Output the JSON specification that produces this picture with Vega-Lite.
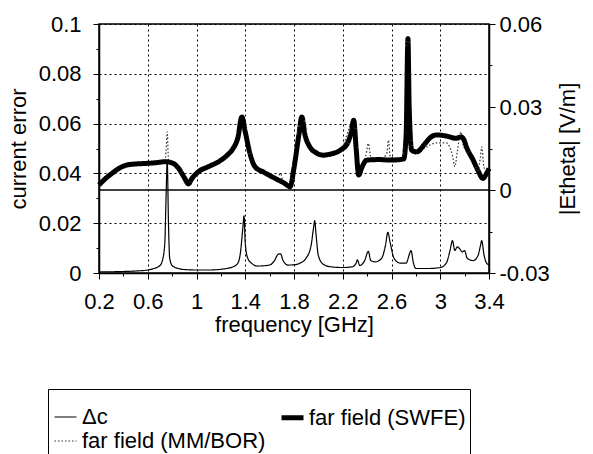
{
  "$schema": "https://vega.github.io/schema/vega-lite/v6.json",
  "width": 390,
  "height": 249,
  "autosize": "none",
  "padding": {"left": 99, "top": 24, "right": 104, "bottom": 181},
  "config": {
    "font": "Liberation Sans",
    "background": "white",
    "view": {"stroke": "black", "strokeWidth": 1.5},
    "axis": {
      "domainColor": "black",
      "domainWidth": 1.5,
      "tickColor": "black",
      "labelColor": "black",
      "titleColor": "black",
      "labelFont": "Liberation Sans",
      "titleFont": "Liberation Sans",
      "labelFontSize": 22,
      "titleFontSize": 22,
      "titleFontWeight": "normal",
      "gridColor": "black",
      "gridDash": [2, 3],
      "gridWidth": 1
    },
    "legend": {
      "labelFont": "Liberation Sans",
      "labelFontSize": 22,
      "labelColor": "black",
      "labelLimit": 400
    }
  },
  "datasets": {
    "dc": [
      {"freq": 0.2, "value": 0.0005, "series": "Δc"},
      {"freq": 0.3, "value": 0.0005, "series": "Δc"},
      {"freq": 0.4, "value": 0.0006, "series": "Δc"},
      {"freq": 0.5, "value": 0.0008, "series": "Δc"},
      {"freq": 0.6, "value": 0.0012, "series": "Δc"},
      {"freq": 0.65, "value": 0.0018, "series": "Δc"},
      {"freq": 0.7, "value": 0.003, "series": "Δc"},
      {"freq": 0.72, "value": 0.005, "series": "Δc"},
      {"freq": 0.74, "value": 0.012, "series": "Δc"},
      {"freq": 0.75, "value": 0.03, "series": "Δc"},
      {"freq": 0.76, "value": 0.045, "series": "Δc"},
      {"freq": 0.77, "value": 0.02, "series": "Δc"},
      {"freq": 0.78, "value": 0.006, "series": "Δc"},
      {"freq": 0.8, "value": 0.003, "series": "Δc"},
      {"freq": 0.85, "value": 0.0018, "series": "Δc"},
      {"freq": 0.9, "value": 0.0014, "series": "Δc"},
      {"freq": 1.0, "value": 0.0012, "series": "Δc"},
      {"freq": 1.1, "value": 0.0012, "series": "Δc"},
      {"freq": 1.2, "value": 0.0015, "series": "Δc"},
      {"freq": 1.3, "value": 0.0025, "series": "Δc"},
      {"freq": 1.34, "value": 0.004, "series": "Δc"},
      {"freq": 1.36, "value": 0.008, "series": "Δc"},
      {"freq": 1.38, "value": 0.018, "series": "Δc"},
      {"freq": 1.39, "value": 0.023, "series": "Δc"},
      {"freq": 1.4, "value": 0.012, "series": "Δc"},
      {"freq": 1.42, "value": 0.006, "series": "Δc"},
      {"freq": 1.45, "value": 0.004, "series": "Δc"},
      {"freq": 1.5, "value": 0.0028, "series": "Δc"},
      {"freq": 1.6, "value": 0.0032, "series": "Δc"},
      {"freq": 1.64, "value": 0.005, "series": "Δc"},
      {"freq": 1.67, "value": 0.0075, "series": "Δc"},
      {"freq": 1.69, "value": 0.0077, "series": "Δc"},
      {"freq": 1.71, "value": 0.005, "series": "Δc"},
      {"freq": 1.75, "value": 0.0032, "series": "Δc"},
      {"freq": 1.8, "value": 0.0033, "series": "Δc"},
      {"freq": 1.85, "value": 0.004, "series": "Δc"},
      {"freq": 1.9, "value": 0.006, "series": "Δc"},
      {"freq": 1.94, "value": 0.011, "series": "Δc"},
      {"freq": 1.96, "value": 0.018, "series": "Δc"},
      {"freq": 1.97, "value": 0.021, "series": "Δc"},
      {"freq": 1.98, "value": 0.016, "series": "Δc"},
      {"freq": 2.0, "value": 0.007, "series": "Δc"},
      {"freq": 2.04, "value": 0.0035, "series": "Δc"},
      {"freq": 2.1, "value": 0.0025, "series": "Δc"},
      {"freq": 2.2, "value": 0.0022, "series": "Δc"},
      {"freq": 2.28, "value": 0.0025, "series": "Δc"},
      {"freq": 2.31, "value": 0.004, "series": "Δc"},
      {"freq": 2.32, "value": 0.0053, "series": "Δc"},
      {"freq": 2.34, "value": 0.003, "series": "Δc"},
      {"freq": 2.38, "value": 0.005, "series": "Δc"},
      {"freq": 2.41, "value": 0.0087, "series": "Δc"},
      {"freq": 2.43, "value": 0.005, "series": "Δc"},
      {"freq": 2.47, "value": 0.0045, "series": "Δc"},
      {"freq": 2.52, "value": 0.006, "series": "Δc"},
      {"freq": 2.55, "value": 0.011, "series": "Δc"},
      {"freq": 2.57, "value": 0.0163, "series": "Δc"},
      {"freq": 2.59, "value": 0.012, "series": "Δc"},
      {"freq": 2.62, "value": 0.006, "series": "Δc"},
      {"freq": 2.67, "value": 0.004, "series": "Δc"},
      {"freq": 2.72, "value": 0.004, "series": "Δc"},
      {"freq": 2.75, "value": 0.008, "series": "Δc"},
      {"freq": 2.76, "value": 0.009, "series": "Δc"},
      {"freq": 2.78, "value": 0.004, "series": "Δc"},
      {"freq": 2.8, "value": 0.0018, "series": "Δc"},
      {"freq": 2.9, "value": 0.0018, "series": "Δc"},
      {"freq": 3.0, "value": 0.0022, "series": "Δc"},
      {"freq": 3.05, "value": 0.004, "series": "Δc"},
      {"freq": 3.08, "value": 0.009, "series": "Δc"},
      {"freq": 3.1, "value": 0.013, "series": "Δc"},
      {"freq": 3.12, "value": 0.009, "series": "Δc"},
      {"freq": 3.14, "value": 0.0105, "series": "Δc"},
      {"freq": 3.16, "value": 0.0097, "series": "Δc"},
      {"freq": 3.18, "value": 0.0085, "series": "Δc"},
      {"freq": 3.2, "value": 0.009, "series": "Δc"},
      {"freq": 3.22, "value": 0.006, "series": "Δc"},
      {"freq": 3.27, "value": 0.005, "series": "Δc"},
      {"freq": 3.31, "value": 0.007, "series": "Δc"},
      {"freq": 3.33, "value": 0.011, "series": "Δc"},
      {"freq": 3.34, "value": 0.013, "series": "Δc"},
      {"freq": 3.36, "value": 0.007, "series": "Δc"},
      {"freq": 3.38, "value": 0.004, "series": "Δc"},
      {"freq": 3.4, "value": 0.0033, "series": "Δc"}
    ],
    "mm": [
      {"freq": 0.2, "value": 0.0018, "series": "far field (MM/BOR)"},
      {"freq": 0.3, "value": 0.0058, "series": "far field (MM/BOR)"},
      {"freq": 0.45, "value": 0.0092, "series": "far field (MM/BOR)"},
      {"freq": 0.6, "value": 0.0096, "series": "far field (MM/BOR)"},
      {"freq": 0.74, "value": 0.0102, "series": "far field (MM/BOR)"},
      {"freq": 0.75, "value": 0.014, "series": "far field (MM/BOR)"},
      {"freq": 0.76, "value": 0.021, "series": "far field (MM/BOR)"},
      {"freq": 0.77, "value": 0.011, "series": "far field (MM/BOR)"},
      {"freq": 0.8, "value": 0.0097, "series": "far field (MM/BOR)"},
      {"freq": 0.85, "value": 0.008, "series": "far field (MM/BOR)"},
      {"freq": 0.9, "value": 0.0045, "series": "far field (MM/BOR)"},
      {"freq": 0.934, "value": 0.0022, "series": "far field (MM/BOR)"},
      {"freq": 1.016, "value": 0.0066, "series": "far field (MM/BOR)"},
      {"freq": 1.18, "value": 0.0102, "series": "far field (MM/BOR)"},
      {"freq": 1.3, "value": 0.015, "series": "far field (MM/BOR)"},
      {"freq": 1.372, "value": 0.026, "series": "far field (MM/BOR)"},
      {"freq": 1.44, "value": 0.013, "series": "far field (MM/BOR)"},
      {"freq": 1.55, "value": 0.0065, "series": "far field (MM/BOR)"},
      {"freq": 1.66, "value": 0.004, "series": "far field (MM/BOR)"},
      {"freq": 1.69, "value": 0.006, "series": "far field (MM/BOR)"},
      {"freq": 1.71, "value": 0.003, "series": "far field (MM/BOR)"},
      {"freq": 1.768, "value": 0.0014, "series": "far field (MM/BOR)"},
      {"freq": 1.84, "value": 0.02, "series": "far field (MM/BOR)"},
      {"freq": 1.864, "value": 0.026, "series": "far field (MM/BOR)"},
      {"freq": 1.93, "value": 0.0156, "series": "far field (MM/BOR)"},
      {"freq": 2.04, "value": 0.0126, "series": "far field (MM/BOR)"},
      {"freq": 2.18, "value": 0.0144, "series": "far field (MM/BOR)"},
      {"freq": 2.29, "value": 0.025, "series": "far field (MM/BOR)"},
      {"freq": 2.33, "value": 0.0058, "series": "far field (MM/BOR)"},
      {"freq": 2.36, "value": 0.009, "series": "far field (MM/BOR)"},
      {"freq": 2.39, "value": 0.0125, "series": "far field (MM/BOR)"},
      {"freq": 2.41, "value": 0.0168, "series": "far field (MM/BOR)"},
      {"freq": 2.43, "value": 0.012, "series": "far field (MM/BOR)"},
      {"freq": 2.5, "value": 0.011, "series": "far field (MM/BOR)"},
      {"freq": 2.56, "value": 0.013, "series": "far field (MM/BOR)"},
      {"freq": 2.575, "value": 0.018, "series": "far field (MM/BOR)"},
      {"freq": 2.59, "value": 0.012, "series": "far field (MM/BOR)"},
      {"freq": 2.7, "value": 0.0112, "series": "far field (MM/BOR)"},
      {"freq": 2.72, "value": 0.018, "series": "far field (MM/BOR)"},
      {"freq": 2.735, "value": 0.05, "series": "far field (MM/BOR)"},
      {"freq": 2.75, "value": 0.025, "series": "far field (MM/BOR)"},
      {"freq": 2.766, "value": 0.0135, "series": "far field (MM/BOR)"},
      {"freq": 2.807, "value": 0.013, "series": "far field (MM/BOR)"},
      {"freq": 2.87, "value": 0.015, "series": "far field (MM/BOR)"},
      {"freq": 2.97, "value": 0.017, "series": "far field (MM/BOR)"},
      {"freq": 3.05, "value": 0.017, "series": "far field (MM/BOR)"},
      {"freq": 3.1, "value": 0.0125, "series": "far field (MM/BOR)"},
      {"freq": 3.12, "value": 0.0084, "series": "far field (MM/BOR)"},
      {"freq": 3.14, "value": 0.014, "series": "far field (MM/BOR)"},
      {"freq": 3.17, "value": 0.021, "series": "far field (MM/BOR)"},
      {"freq": 3.19, "value": 0.016, "series": "far field (MM/BOR)"},
      {"freq": 3.22, "value": 0.014, "series": "far field (MM/BOR)"},
      {"freq": 3.27, "value": 0.0105, "series": "far field (MM/BOR)"},
      {"freq": 3.31, "value": 0.0075, "series": "far field (MM/BOR)"},
      {"freq": 3.33, "value": 0.012, "series": "far field (MM/BOR)"},
      {"freq": 3.34, "value": 0.0156, "series": "far field (MM/BOR)"},
      {"freq": 3.36, "value": 0.008, "series": "far field (MM/BOR)"},
      {"freq": 3.4, "value": 0.0075, "series": "far field (MM/BOR)"}
    ],
    "swfe": [
      {"freq": 0.2, "value": 0.0018, "series": "far field (SWFE)"},
      {"freq": 0.25, "value": 0.004, "series": "far field (SWFE)"},
      {"freq": 0.3, "value": 0.0058, "series": "far field (SWFE)"},
      {"freq": 0.388, "value": 0.0084, "series": "far field (SWFE)"},
      {"freq": 0.45, "value": 0.0092, "series": "far field (SWFE)"},
      {"freq": 0.58, "value": 0.0096, "series": "far field (SWFE)"},
      {"freq": 0.65, "value": 0.0098, "series": "far field (SWFE)"},
      {"freq": 0.743, "value": 0.0102, "series": "far field (SWFE)"},
      {"freq": 0.8, "value": 0.0098, "series": "far field (SWFE)"},
      {"freq": 0.85, "value": 0.008, "series": "far field (SWFE)"},
      {"freq": 0.9, "value": 0.0045, "series": "far field (SWFE)"},
      {"freq": 0.934, "value": 0.0022, "series": "far field (SWFE)"},
      {"freq": 0.96, "value": 0.004, "series": "far field (SWFE)"},
      {"freq": 1.016, "value": 0.0066, "series": "far field (SWFE)"},
      {"freq": 1.1, "value": 0.0085, "series": "far field (SWFE)"},
      {"freq": 1.18, "value": 0.0102, "series": "far field (SWFE)"},
      {"freq": 1.25, "value": 0.0125, "series": "far field (SWFE)"},
      {"freq": 1.3, "value": 0.015, "series": "far field (SWFE)"},
      {"freq": 1.34, "value": 0.019, "series": "far field (SWFE)"},
      {"freq": 1.372, "value": 0.0264, "series": "far field (SWFE)"},
      {"freq": 1.4, "value": 0.021, "series": "far field (SWFE)"},
      {"freq": 1.44, "value": 0.013, "series": "far field (SWFE)"},
      {"freq": 1.48, "value": 0.0084, "series": "far field (SWFE)"},
      {"freq": 1.55, "value": 0.0065, "series": "far field (SWFE)"},
      {"freq": 1.645, "value": 0.0042, "series": "far field (SWFE)"},
      {"freq": 1.72, "value": 0.0025, "series": "far field (SWFE)"},
      {"freq": 1.768, "value": 0.0012, "series": "far field (SWFE)"},
      {"freq": 1.8, "value": 0.008, "series": "far field (SWFE)"},
      {"freq": 1.84, "value": 0.02, "series": "far field (SWFE)"},
      {"freq": 1.864, "value": 0.0264, "series": "far field (SWFE)"},
      {"freq": 1.89, "value": 0.02, "series": "far field (SWFE)"},
      {"freq": 1.93, "value": 0.0156, "series": "far field (SWFE)"},
      {"freq": 1.98, "value": 0.0135, "series": "far field (SWFE)"},
      {"freq": 2.04, "value": 0.0126, "series": "far field (SWFE)"},
      {"freq": 2.1, "value": 0.013, "series": "far field (SWFE)"},
      {"freq": 2.18, "value": 0.0144, "series": "far field (SWFE)"},
      {"freq": 2.24, "value": 0.017, "series": "far field (SWFE)"},
      {"freq": 2.27, "value": 0.021, "series": "far field (SWFE)"},
      {"freq": 2.29, "value": 0.0252, "series": "far field (SWFE)"},
      {"freq": 2.31, "value": 0.015, "series": "far field (SWFE)"},
      {"freq": 2.33, "value": 0.0054, "series": "far field (SWFE)"},
      {"freq": 2.36, "value": 0.0085, "series": "far field (SWFE)"},
      {"freq": 2.397, "value": 0.0108, "series": "far field (SWFE)"},
      {"freq": 2.5, "value": 0.011, "series": "far field (SWFE)"},
      {"freq": 2.588, "value": 0.0108, "series": "far field (SWFE)"},
      {"freq": 2.7, "value": 0.0112, "series": "far field (SWFE)"},
      {"freq": 2.72, "value": 0.02, "series": "far field (SWFE)"},
      {"freq": 2.735, "value": 0.0548, "series": "far field (SWFE)"},
      {"freq": 2.745, "value": 0.03, "series": "far field (SWFE)"},
      {"freq": 2.766, "value": 0.0144, "series": "far field (SWFE)"},
      {"freq": 2.807, "value": 0.0138, "series": "far field (SWFE)"},
      {"freq": 2.87, "value": 0.0165, "series": "far field (SWFE)"},
      {"freq": 2.92, "value": 0.019, "series": "far field (SWFE)"},
      {"freq": 2.97, "value": 0.0199, "series": "far field (SWFE)"},
      {"freq": 3.05, "value": 0.0195, "series": "far field (SWFE)"},
      {"freq": 3.13, "value": 0.0187, "series": "far field (SWFE)"},
      {"freq": 3.17, "value": 0.0192, "series": "far field (SWFE)"},
      {"freq": 3.19, "value": 0.0185, "series": "far field (SWFE)"},
      {"freq": 3.22, "value": 0.015, "series": "far field (SWFE)"},
      {"freq": 3.27, "value": 0.0108, "series": "far field (SWFE)"},
      {"freq": 3.31, "value": 0.007, "series": "far field (SWFE)"},
      {"freq": 3.35, "value": 0.0042, "series": "far field (SWFE)"},
      {"freq": 3.38, "value": 0.006, "series": "far field (SWFE)"},
      {"freq": 3.4, "value": 0.0078, "series": "far field (SWFE)"}
    ]
  },
  "layer": [
    {
      "data": {"name": "dc"},
      "mark": {"type": "line", "interpolate": "monotone"},
      "encoding": {
        "x": {
          "field": "freq", "type": "quantitative",
          "scale": {"domain": [0.2, 3.4], "nice": false, "zero": false},
          "axis": {
            "title": "frequency [GHz]",
            "values": [0.2, 0.4, 0.6, 0.8, 1.0, 1.2, 1.4, 1.6, 1.8, 2.0, 2.2, 2.4, 2.6, 2.8, 3.0, 3.2, 3.4],
            "labelExpr": "round(datum.value * 10) % 4 == 2 ? format(datum.value, '~g') : ''",
            "gridOpacity": {"condition": {"test": "round(datum.value * 10) % 4 != 2", "value": 0}, "value": 1},
            "tickSize": {"condition": {"test": "round(datum.value * 10) % 4 != 2", "value": 3}, "value": 6},
            "labelPadding": 12,
            "titlePadding": 2,
            "labelFlush": false
          }
        },
        "y": {
          "field": "value", "type": "quantitative",
          "scale": {"domain": [0, 0.1], "nice": false},
          "axis": {
            "title": "current error",
            "orient": "left",
            "values": [0, 0.01, 0.02, 0.03, 0.04, 0.05, 0.06, 0.07, 0.08, 0.09, 0.1],
            "labelExpr": "round(datum.value * 100) % 2 == 0 ? (datum.value == 0 ? '0' : format(datum.value, '~g')) : ''",
            "gridOpacity": {"condition": {"test": "round(datum.value * 100) % 2 != 0", "value": 0}, "value": 1},
            "tickSize": {"condition": {"test": "round(datum.value * 100) % 2 != 0", "value": 3}, "value": 6},
            "labelPadding": 12,
            "titlePadding": 8,
            "labelFlush": false
          }
        },
        "color": {
          "field": "series", "type": "nominal",
          "scale": {"domain": ["Δc", "far field (MM/BOR)", "far field (SWFE)"], "range": ["black", "#333333", "black"]},
          "legend": {"title": " ", "titleFontSize": 8, "titlePadding": 3, "orient": "none", "legendX": -51, "legendY": 365, "columns": 2, "gridAlign": "all", "columnPadding": 5, "rowPadding": 0, "padding": 4, "strokeColor": "black", "fillColor": "white", "symbolType": "stroke", "symbolSize": 484, "labelOffset": 3}
        },
        "strokeWidth": {
          "field": "series", "type": "nominal",
          "scale": {"type": "ordinal", "domain": ["Δc", "far field (MM/BOR)", "far field (SWFE)"], "range": [1.2, 1.2, 5]},
          "legend": {"title": " ", "titleFontSize": 8, "titlePadding": 3, "orient": "none", "legendX": -51, "legendY": 365, "columns": 2, "gridAlign": "all", "columnPadding": 5, "rowPadding": 0, "padding": 4, "strokeColor": "black", "fillColor": "white", "symbolType": "stroke", "symbolSize": 484, "labelOffset": 3}
        },
        "strokeDash": {
          "field": "series", "type": "nominal",
          "scale": {"domain": ["Δc", "far field (MM/BOR)", "far field (SWFE)"], "range": [[1, 0], [1.5, 2], [1, 0]]},
          "legend": {"title": " ", "titleFontSize": 8, "titlePadding": 3, "orient": "none", "legendX": -51, "legendY": 365, "columns": 2, "gridAlign": "all", "columnPadding": 5, "rowPadding": 0, "padding": 4, "strokeColor": "black", "fillColor": "white", "symbolType": "stroke", "symbolSize": 484, "labelOffset": 3}
        }
      }
    },
    {
      "encoding": {
        "x": {
          "field": "freq", "type": "quantitative",
          "scale": {"domain": [0.2, 3.4], "nice": false, "zero": false},
          "axis": {
            "title": "frequency [GHz]",
            "values": [0.2, 0.4, 0.6, 0.8, 1.0, 1.2, 1.4, 1.6, 1.8, 2.0, 2.2, 2.4, 2.6, 2.8, 3.0, 3.2, 3.4],
            "labelExpr": "round(datum.value * 10) % 4 == 2 ? format(datum.value, '~g') : ''",
            "gridOpacity": {"condition": {"test": "round(datum.value * 10) % 4 != 2", "value": 0}, "value": 1},
            "tickSize": {"condition": {"test": "round(datum.value * 10) % 4 != 2", "value": 3}, "value": 6},
            "labelPadding": 12,
            "titlePadding": 2,
            "labelFlush": false
          }
        },
        "y": {
          "field": "value", "type": "quantitative",
          "scale": {"domain": [-0.03, 0.06], "nice": false, "zero": false},
          "axis": {
            "title": "|Etheta| [V/m]",
            "orient": "right",
            "titleAngle": 270,
            "grid": false,
            "values": [-0.03, -0.015, 0, 0.015, 0.03, 0.045, 0.06],
            "labelExpr": "round(datum.value * 1000) % 30 == 0 ? (datum.value == 0 ? '0' : (datum.value < 0 ? '-' : '') + format(abs(datum.value), '.2f')) : ''",
            "tickSize": {"condition": {"test": "round(datum.value * 1000) % 30 != 0", "value": 3}, "value": 6},
            "labelPadding": 4,
            "titlePadding": 30,
            "labelFlush": false
          }
        },
        "color": {
          "field": "series", "type": "nominal",
          "scale": {"domain": ["Δc", "far field (MM/BOR)", "far field (SWFE)"], "range": ["black", "#333333", "black"]},
          "legend": {"title": " ", "titleFontSize": 8, "titlePadding": 3, "orient": "none", "legendX": -51, "legendY": 365, "columns": 2, "gridAlign": "all", "columnPadding": 5, "rowPadding": 0, "padding": 4, "strokeColor": "black", "fillColor": "white", "symbolType": "stroke", "symbolSize": 484, "labelOffset": 3}
        },
        "strokeWidth": {
          "field": "series", "type": "nominal",
          "scale": {"type": "ordinal", "domain": ["Δc", "far field (MM/BOR)", "far field (SWFE)"], "range": [1.2, 1.2, 5]},
          "legend": {"title": " ", "titleFontSize": 8, "titlePadding": 3, "orient": "none", "legendX": -51, "legendY": 365, "columns": 2, "gridAlign": "all", "columnPadding": 5, "rowPadding": 0, "padding": 4, "strokeColor": "black", "fillColor": "white", "symbolType": "stroke", "symbolSize": 484, "labelOffset": 3}
        },
        "strokeDash": {
          "field": "series", "type": "nominal",
          "scale": {"domain": ["Δc", "far field (MM/BOR)", "far field (SWFE)"], "range": [[1, 0], [1.5, 2], [1, 0]]},
          "legend": {"title": " ", "titleFontSize": 8, "titlePadding": 3, "orient": "none", "legendX": -51, "legendY": 365, "columns": 2, "gridAlign": "all", "columnPadding": 5, "rowPadding": 0, "padding": 4, "strokeColor": "black", "fillColor": "white", "symbolType": "stroke", "symbolSize": 484, "labelOffset": 3}
        }
      },
      "layer": [
        {"data": {"name": "mm"}, "mark": {"type": "line", "interpolate": "monotone"}},
        {"data": {"name": "swfe"}, "mark": {"type": "line", "interpolate": "monotone", "strokeJoin": "round"}}
      ]
    },
    {
      "data": {"values": [{"level": 0}]},
      "mark": {"type": "rule", "color": "black", "strokeWidth": 1.5},
      "encoding": {
        "y": {"field": "level", "type": "quantitative", "scale": {"domain": [-0.03, 0.06], "nice": false, "zero": false}, "axis": null}
      }
    }
  ],
  "resolve": {"scale": {"y": "independent"}}
}
